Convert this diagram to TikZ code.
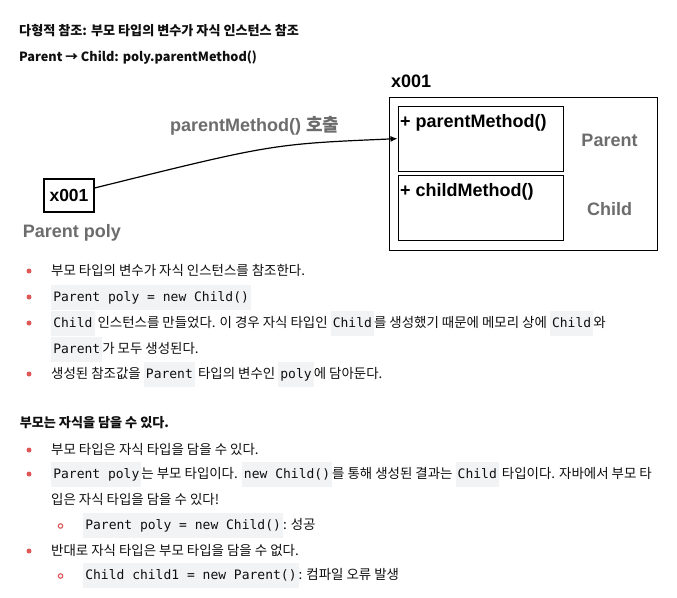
\documentclass[tikz,border=0pt]{standalone}
\usepackage{fontspec}
\setmainfont{Noto Sans CJK KR}
\setmonofont{DejaVu Sans Mono}
\newfontfamily\helv{Liberation Sans}
\usetikzlibrary{arrows.meta}
\definecolor{bulletred}{RGB}{222,88,88}
\definecolor{codebg}{RGB}{242,243,245}
\definecolor{labelgray}{RGB}{108,108,108}
\definecolor{bodyblack}{RGB}{15,15,15}
\newcommand\code[1]{{\setlength{\fboxsep}{0pt}\colorbox{codebg}{\rule[-7.9pt]{0pt}{25pt}\hspace{2.1pt}{\ttfamily\fontsize{13}{15}\selectfont #1}\hspace{2.1pt}}}}

\begin{document}
\begin{tikzpicture}[x=1pt,y=-1pt,
		txt/.style={anchor=base west,inner sep=0pt,text=bodyblack,font=\fontsize{13.45}{15}\selectfont},
		head/.style={txt,font=\bfseries\fontsize{13.1}{15}\selectfont},
		dot/.style={circle,fill=bulletred,inner sep=0pt,minimum size=5pt},
		ring/.style={circle,draw=bulletred,line width=1.1pt,inner sep=0pt,minimum size=4.5pt},
		lbl/.style={anchor=base west,inner sep=0pt,font=\helv\bfseries\fontsize{18}{20}\selectfont},
		glbl/.style={lbl,text=labelgray},
		membox/.style={draw,line width=1.3pt,inner sep=0pt,minimum width=165pt,minimum height=65pt}]
	\fill[white] (0,0) rectangle (677,597);
	\useasboundingbox (0,0) rectangle (677,597);
	\node[head] (title) at (19,35) {다형적 참조: 부모 타입의 변수가 자식 인스턴스 참조};
	\node[head,font=\bfseries\fontsize{12.7}{15}\selectfont] (sub) at (19,61) {Parent → Child: poly.parentMethod()};
	\node[draw,line width=1.2pt,inner sep=0pt,minimum width=268pt,minimum height=153pt,anchor=north west] (obj) at (389,97) {};
	\node[lbl] (addr) at (391,87.3) {x001};
	\node[membox,anchor=north west] (pbox) at (397.5,105.5) {};
	\node[membox,anchor=north west] (cbox) at (397.5,175) {};
	\node[lbl] (pm) at (400,127.3) {+ parentMethod()};
	\node[lbl] (cm) at (400,196.7) {+ childMethod()};
	\node[glbl,anchor=base] (plbl) at (609.5,146) {Parent};
	\node[glbl,anchor=base] (clbl) at (609.5,215.3) {Child};
	\node[draw,line width=1.2pt,inner sep=0pt,minimum width=50pt,minimum height=33pt,font=\helv\bfseries\fontsize{17.5}{20}\selectfont] (ref) at (69,195.5) {x001};
	\node[glbl] (var) at (22.7,237.3) {Parent poly};
	\node[glbl] (call) at (170,131) {parentMethod() {\rmfamily 호출}};
	\draw[line width=1.2pt,-{Latex[length=7pt,width=6pt]}] ([yshift=7.5pt]ref.east) .. controls (272,144) .. (pbox.west);
	\node[dot] (d1) at (29,271) {};
	\node[txt] (l1) at (51,275.6) {부모 타입의 변수가 자식 인스턴스를 참조한다.};
	\node[dot] (d2) at (29,297) {};
	\node[txt] (l2) at (51,301.6) {\code{Parent poly = new Child()}};
	\node[dot] (d3) at (29,323) {};
	\node[txt] (l3) at (51,327.6) {\code{Child} 인스턴스를 만들었다. 이 경우 자식 타입인 \code{Child}를 생성했기 때문에 메모리 상에 \code{Child}와};
	\node[txt] (l3b) at (51,353.6) {\code{Parent}가 모두 생성된다.};
	\node[dot] (d4) at (29,374) {};
	\node[txt] (l4) at (51,378.6) {생성된 참조값을 \code{Parent} 타입의 변수인 \code{poly}에 담아둔다.};
	\node[head] (h2) at (19.6,427.6) {부모는 자식을 담을 수 있다.};
	\node[dot] (d5) at (29,450) {};
	\node[txt] (l5) at (51,454.6) {부모 타입은 자식 타입을 담을 수 있다.};
	\node[dot] (d6) at (29,474) {};
	\node[txt] (l6) at (51,478.6) {\code{Parent poly}는 부모 타입이다. \code{new Child()}를 통해 생성된 결과는 \code{Child} 타입이다. 자바에서 부모 타};
	\node[txt] (l6b) at (51,504.6) {입은 자식 타입을 담을 수 있다!};
	\node[ring] (r1) at (60.5,526) {};
	\node[txt] (l7) at (83,529.6) {\code{Parent poly = new Child()}: 성공};
	\node[dot] (d7) at (29,551) {};
	\node[txt] (l8) at (51,555.6) {반대로 자식 타입은 부모 타입을 담을 수 없다.};
	\node[ring] (r2) at (60.5,576) {};
	\node[txt] (l9) at (83,579.6) {\code{Child child1 = new Parent()}: 컴파일 오류 발생};
\end{tikzpicture}
\end{document}
